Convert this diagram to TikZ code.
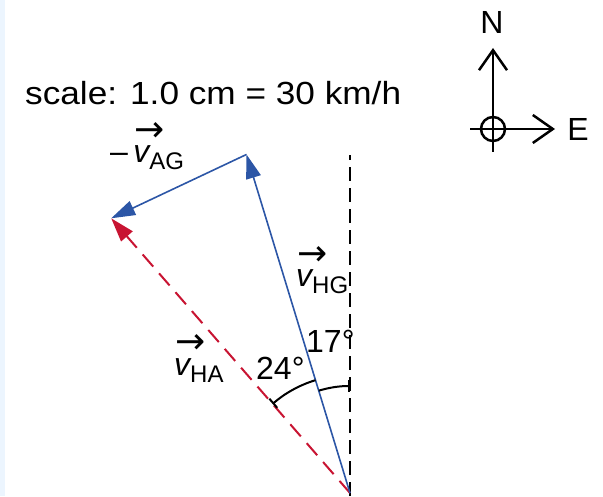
\documentclass[tikz,border=0pt]{standalone}
\usepackage{fontspec}
\setmainfont{Liberation Sans}
\newfontfamily\arrowfont{DejaVu Sans}
\usetikzlibrary{positioning,arrows.meta}

\definecolor{vecblue}{RGB}{44,86,166}
\definecolor{vecred}{RGB}{200,20,50}
\definecolor{stripblue}{RGB}{236,245,254}
\newcommand{\vel}[1]{\makebox[0pt][l]{\hspace{1pt}\raisebox{21pt}{\fontsize{36}{36}\arrowfont →}}%
    {\itshape v}\raisebox{-7pt}{\fontsize{24}{24}\selectfont #1}}

\begin{document}
\begin{tikzpicture}[
        x=1pt, y=1pt,
        font=\fontsize{32}{36}\selectfont,
        vecline/.style={draw=vecblue, line width=1.6pt, -{Triangle[length=24pt,width=15pt]}},
        resline/.style={draw=vecred, line width=2pt, dash pattern=on 16pt off 9pt,
            -{Triangle[length=24pt,width=15pt]}},
        refline/.style={draw, line width=2pt, dash pattern=on 14pt off 7pt},
        anglearc/.style={draw, line width=2pt, -{Bar[width=12pt]}},
        compass/.style={draw, line width=2.5pt, -{Straight Barb[length=20pt,width=28pt]}},
        lbl/.style={anchor=base west, inner sep=0pt}
    ]
    \useasboundingbox (0,0) rectangle (603,496);
    \fill [stripblue] (0,0) rectangle (5,496);

    % scale and compass
    \node [lbl] (scale) at (25,391) {\scalebox{1.1}[1]{scale: 1.0 cm = 30 km/h}};
    \coordinate (cc) at (493,367);
    \coordinate (cS) at (493,344);
    \coordinate (cN) at (493,448);
    \coordinate (cW) at (470,367);
    \coordinate (cE) at (555,367);
    \draw [line width=2.5pt] (cc) circle (12);
    \draw [compass] (cS) -- (cN);
    \draw [compass] (cW) -- (cE);
    \node (north) at (492,474) {N};
    \node (east) at (578,367) {E};

    % vector triangle
    \coordinate (base) at (350,0);
    \coordinate (O) at (350,3);
    \coordinate (top) at (350,341);
    \path (O) ++(107:354) coordinate (H);
    \path (O) ++(131:364) coordinate (A);

    \path [refline] (base) -- (top);
    \path [resline] (O) -- (A);
    \path [vecline] (O) -- (H);
    \path [vecline] (H) -- (A);

    \path [anglearc] (O) ++(107:118) arc[start angle=107, end angle=131, radius=118];
    \path [anglearc] (O) ++(107:107) arc[start angle=107, end angle=90, radius=107];

    \node [lbl] (vag) at (110,333) {–\,\vel{AG}};
    \node [lbl] (vhg) at (296,209) {\vel{HG}};
    \node [lbl] (vha) at (174,121) {\vel{HA}};
    \node [lbl] (a24) at (256,116) {24°};
    \node [lbl] (a17) at (306,143) {17°};
\end{tikzpicture}
\end{document}
